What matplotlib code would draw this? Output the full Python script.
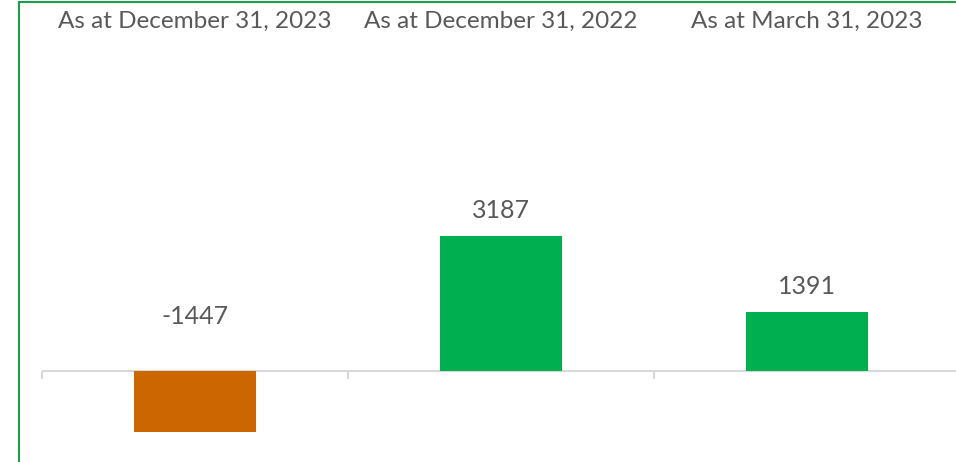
import matplotlib
matplotlib.use('Agg')
from matplotlib import pyplot as plt
from matplotlib.patches import Rectangle

# データ
categories = ['As at December 31, 2023', 'As at December 31, 2022', 'As at March 31, 2023']
values = [-1447, 3187, 1391]
colors = ['#CC6600', '#00B050', '#00B050']

plt.rcParams['font.family'] = ['Lato', 'DejaVu Sans']
txt_color = '#595959'

fig = plt.figure(figsize=(9.56, 4.62), dpi=100)

# 外枠（緑）
fig.patches.append(Rectangle((19 / 956, -0.1), 1.2, 1.1 - 2 / 462,
                             transform=fig.transFigure, fill=False,
                             edgecolor='#1E9E4A', linewidth=1.5))

ax = fig.add_axes([42 / 956, 0, 918 / 956, 1])
x = range(len(values))
ax.bar(x, values, width=0.4, color=colors, zorder=3)

px = 135 / 3187  # pixels per unit
ax.set_xlim(-0.5, 2.5)
ax.set_ylim(-91 / px, 371 / px)
ax.axhline(0, color='#D9D9D9', linewidth=1.5, zorder=2)

for s in ax.spines.values():
    s.set_visible(False)
ax.set_yticks([])
ax.set_xticks([])
ax.set_xticks([-0.5, 0.5, 1.5, 2.5], minor=True)
ax.tick_params(axis='x', which='minor', direction='out', length=6,
               width=1.5, color='#D9D9D9', pad=0)
ax.xaxis.set_tick_params(which='minor', labelbottom=False)
# 目盛りを軸線の位置へ
ax.spines['bottom'].set_position(('data', 0))

# データラベル
for i, v in enumerate(values):
    if v >= 0:
        ax.annotate(str(v), (i, v), xytext=(0, 18.5), textcoords='offset points',
                    ha='center', va='center', fontsize=18, color=txt_color)
    else:
        ax.annotate(str(v), (i, 0), xytext=(0, 39.5), textcoords='offset points',
                    ha='center', va='center', fontsize=18, color=txt_color)

# カテゴリラベル（上部）
for i, c in enumerate(categories):
    ax.text(i, 1 - 21 / 462, c, transform=ax.get_xaxis_transform(),
            ha='center', va='center', fontsize=17.5, color=txt_color)

fig.savefig('out.png', dpi=100)
plt.close()
